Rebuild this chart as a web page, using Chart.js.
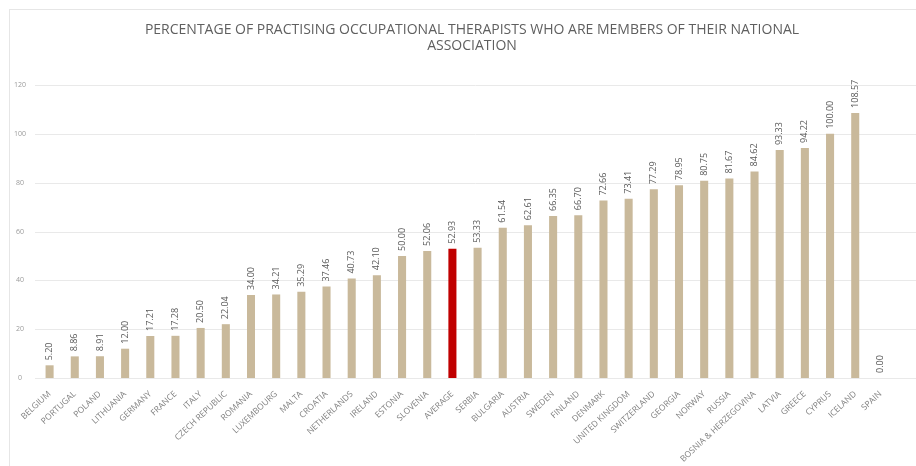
<!DOCTYPE html>
<html>
<head>
<meta charset="utf-8">
<title>OT association membership</title>
<script src="https://cdn.jsdelivr.net/npm/chart.js@4.4.0/dist/chart.umd.min.js"></script>
<style>
  html, body { margin: 0; padding: 0; background: #fff; }
  #wrap { position: relative; width: 916px; height: 466px; overflow: hidden; }
  #frame { position: absolute; left: 9px; top: 9px; width: 920px; height: 470px; border: 1px solid #e6e6e6; }
  canvas { position: absolute; left: 0; top: 0; }
</style>
</head>
<body>
<div id="wrap">
  <div id="frame"></div>
  <canvas id="otchart" width="916" height="466"></canvas>
</div>

<script>
/* data */
var countries = ['BELGIUM', 'PORTUGAL', 'POLAND', 'LITHUANIA', 'GERMANY', 'FRANCE', 'ITALY',
  'CZECH REPUBLIC', 'ROMANIA', 'LUXEMBOURG', 'MALTA', 'CROATIA', 'NETHERLANDS', 'IRELAND',
  'ESTONIA', 'SLOVENIA', 'AVERAGE', 'SERBIA', 'BULGARIA', 'AUSTRIA', 'SWEDEN', 'FINLAND',
  'DENMARK', 'UNITED KINGDOM', 'SWITZERLAND', 'GEORGIA', 'NORWAY', 'RUSSIA',
  'BOSNIA & HERZEGOVINA', 'LATVIA', 'GREECE', 'CYPRUS', 'ICELAND', 'SPAIN'];

var memberPct = [5.20, 8.86, 8.91, 12.00, 17.21, 17.28, 20.50, 22.04, 34.00, 34.21, 35.29,
  37.46, 40.73, 42.10, 50.00, 52.06, 52.93, 53.33, 61.54, 62.61, 66.35, 66.70, 72.66,
  73.41, 77.29, 78.95, 80.75, 81.67, 84.62, 93.33, 94.22, 100.00, 108.57, 0.00];

var yTicks = [0, 20, 40, 60, 80, 100, 120];

var titleLines = ['PERCENTAGE OF PRACTISING OCCUPATIONAL THERAPISTS WHO ARE MEMBERS OF THEIR NATIONAL',
  'ASSOCIATION'];

var barColors = countries.map(function (c) {
  return c == 'AVERAGE' ? '#c00000' : '#c9b99b';
});

/* title drawn over the top band */
var titlePlugin = {
  id: 'topTitle',
  afterDraw: function (chart) {
    var ctx = chart.ctx;
    ctx.save();
    ctx.fillStyle = '#5f5f5f';
    ctx.font = '14px "Open Sans"';
    ctx.textAlign = 'center';
    ctx.textBaseline = 'middle';
    ctx.fillText(titleLines[0], 472, 30, 656);
    ctx.fillText(titleLines[1], 472, 46, 656);
    ctx.restore();
  }
};

/* horizontal grid that runs on to the right edge */
var gridPlugin = {
  id: 'longGrid',
  beforeDatasetsDraw: function (chart) {
    var ctx = chart.ctx, y = chart.scales.y;
    ctx.save();
    ctx.strokeStyle = '#e9e9e9';
    ctx.lineWidth = 1;
    yTicks.forEach(function (v) {
      var py = Math.round(y.getPixelForValue(v)) + 0.5;
      ctx.beginPath();
      ctx.moveTo(chart.chartArea.left - 2, py);
      ctx.lineTo(chart.width, py);
      ctx.stroke();
    });
    ctx.restore();
  }
};

/* rotated value labels above each bar */
var valuePlugin = {
  id: 'barValues',
  afterDatasetsDraw: function (chart) {
    var ctx = chart.ctx;
    var meta = chart.getDatasetMeta(0);
    ctx.save();
    ctx.fillStyle = '#595959';
    ctx.font = '9px "Open Sans"';
    ctx.textAlign = 'left';
    ctx.textBaseline = 'middle';
    meta.data.forEach(function (bar, i) {
      ctx.save();
      ctx.translate(bar.x, bar.y - 5);
      ctx.rotate(-Math.PI / 2);
      ctx.fillText(memberPct[i].toFixed(2), 0, 0);
      ctx.restore();
    });
    ctx.restore();
  }
};

var ot = document.getElementById('otchart');
var otchart = new Chart(ot, {
  type: 'bar',
  data: {
    labels: countries,
    datasets: [{
      data: memberPct,
      backgroundColor: barColors,
      borderWidth: 0,
      barPercentage: 0.64,
      categoryPercentage: 0.5
    }]
  },
  options: {
    responsive: false,
    animation: false,
    layout: {
      padding: { top: 85, left: 6, right: 23, bottom: 0 }
    },
    plugins: {
      legend: { display: false },
      tooltip: { enabled: false }
    },
    scales: {
      x: {
        grid: { display: false },
        border: { display: false },
        ticks: {
          autoSkip: false,
          minRotation: 43,
          maxRotation: 43,
          padding: 3,
          color: '#7f7f7f',
          font: { family: '"Open Sans"', size: 8.5 }
        },
        afterFit: function (scale) { scale.height = 88; }
      },
      y: {
        min: 0,
        max: 120,
        grid: { display: false },
        border: { display: false },
        ticks: {
          stepSize: 20,
          crossAlign: 'center',
          color: '#9a9a9a',
          font: { family: '"Open Sans"', size: 7 }
        },
        afterFit: function (scale) { scale.width = 31; }
      }
    }
  },
  plugins: [gridPlugin, valuePlugin, titlePlugin]
});
</script>
</body>
</html>
